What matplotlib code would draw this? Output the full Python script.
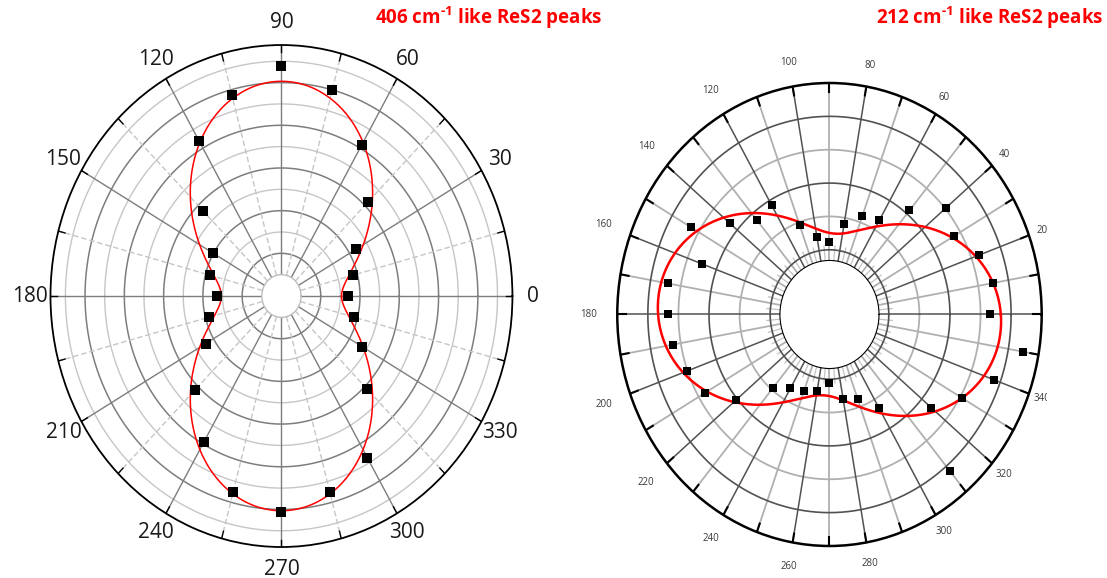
import numpy as np
import matplotlib.pyplot as plt
from matplotlib.patches import Rectangle

plt.rcParams['font.family'] = ['Open Sans', 'DejaVu Sans']
plt.rcParams['mathtext.fontset'] = 'custom'
plt.rcParams['mathtext.rm'] = 'Open Sans:bold'
plt.rcParams['mathtext.default'] = 'rm'

# --- 406 cm-1 mode: polarised intensity every 15 deg ---
ang_406 = np.arange(0, 360, 15)
int_406 = [2.41, 2.76, 3.40, 5.20, 7.16, 8.98, 9.76, 8.77, 7.41, 4.62, 3.03, 2.76,
           2.27, 2.82, 3.46, 5.20, 6.89, 8.50, 9.11, 8.49, 7.76, 5.17, 3.76, 2.81]
# cos^2 fit: base + amp * cos^2(theta - phase)
base_406, amp_406, phase_406 = 2.06, 7.0, 90.0
labels_406 = list(range(0, 360, 30))

# --- 212 cm-1 mode: polarised intensity every 10 deg ---
ang_212 = np.arange(0, 360, 10)
int_212 = [4.31, 4.50, 4.27, 3.75, 4.04, 3.13, 2.33, 2.20, 1.82, 1.24,
           1.43, 1.90, 2.84, 2.75, 3.31, 4.28, 3.51, 4.43, 4.35, 4.27,
           4.03, 3.75, 3.06, 1.95, 1.62, 1.50, 1.38, 1.12, 1.63, 1.77,
           2.28, 5.20, 3.40, 4.08, 4.78, 5.47]
base_212, amp_212, phase_212 = 1.49, 3.19, -4.0
labels_212 = list(range(0, 360, 20))

TH = np.linspace(0, 2 * np.pi, 721)


def ring(ax, r, **kw):
    ax.plot(TH, np.full_like(TH, r), **kw)


def spoke(ax, deg, r0, r1, **kw):
    t = np.deg2rad(deg)
    ax.plot([t, t], [r0, r1], **kw)


def setup(ax, rorigin, rmin, rmax):
    ax.set_aspect('auto')
    ax.set_rorigin(rorigin)
    ax.set_ylim(rmin, rmax)
    ax.grid(False)
    ax.set_xticks([])
    ax.set_yticks([])


fig = plt.figure(figsize=(11.07, 5.78), dpi=100)

# ---------------- left panel ----------------
ax1 = fig.add_axes([0.0456, 0.0536, 0.4173, 0.8685], projection='polar')
rmax1 = 10.76
setup(ax1, -1.0, 0.0, rmax1)
ax1.spines['polar'].set_color('black')
ax1.spines['polar'].set_linewidth(1.3)
ax1.spines['inner'].set_color('#bdbdbd')
ax1.spines['inner'].set_linewidth(1.0)

for r in [2, 4, 6, 8, 10]:
    ring(ax1, r, color='#c6c6c6', lw=1.0, zorder=1)
for r in [1, 3, 5, 7, 9]:
    ring(ax1, r, color='#7d7d7d', lw=1.1, zorder=1)
for d in range(15, 360, 30):
    spoke(ax1, d, 0, rmax1, color='#c6c6c6', lw=1.0, ls=(0, (4, 2)), zorder=1)
for d in range(0, 360, 30):
    spoke(ax1, d, 0, rmax1, color='#7d7d7d', lw=1.0, zorder=1)
for d in range(0, 360, 15):
    spoke(ax1, d, rmax1 - 0.35, rmax1, color='black', lw=1.0, zorder=2)
for d in labels_406:
    ax1.text(np.deg2rad(d), 1.09 * (rmax1 + 1) - 1, str(d), ha='center', va='center',
             fontsize=15, color='#1a1a1a')

ax1.plot(TH, base_406 + amp_406 * np.cos(TH - np.deg2rad(phase_406)) ** 2,
         color='red', lw=1.1, zorder=4)
ax1.plot(np.deg2rad(ang_406), int_406, 's', color='black', ms=7.2, mew=0, zorder=5)

# ---------------- right panel ----------------
ax2 = fig.add_axes([0.5576, 0.0554, 0.3834, 0.801], projection='polar')
rmax2, rmin2, rorig2 = 6.0, 0.68, -0.94
setup(ax2, rorig2, rmin2, rmax2)
ax2.spines['polar'].set_color('black')
ax2.spines['polar'].set_linewidth(1.8)
ax2.spines['inner'].set_visible(False)

for d in range(5, 360, 10):
    spoke(ax2, d, rmin2, 1.12, color='#c4c4c4', lw=0.9, zorder=1)
for r in [2, 4]:
    ring(ax2, r, color='#b0b0b0', lw=1.3, zorder=1)
for d in range(10, 360, 20):
    spoke(ax2, d, rmin2, rmax2, color='#b0b0b0', lw=1.3, zorder=1)
for r in [1, 3, 5]:
    ring(ax2, r, color='#525252', lw=1.2, zorder=1)
for d in range(0, 360, 20):
    spoke(ax2, d, rmin2, rmax2, color='#525252', lw=1.1, zorder=1)
for d in range(0, 360, 10):
    spoke(ax2, d, rmax2 - 0.27, rmax2, color='black', lw=1.5, zorder=2)
for d in labels_212:
    frac = 1.1 - 0.035 * np.cos(np.deg2rad(d))
    ax2.text(np.deg2rad(d), frac * (rmax2 - rorig2) + rorig2, str(d), ha='center',
             va='center', fontsize=7, color='#3a3a3a')

ax2.plot(TH, base_212 + amp_212 * np.cos(TH - np.deg2rad(phase_212)) ** 2,
         color='red', lw=1.8, zorder=4)
ax2.plot(np.deg2rad(ang_212), int_212, 's', color='black', ms=6.3, mew=0, zorder=5)

# right figure is trimmed at its right edge
fig.add_artist(Rectangle((1047 / 1107, 0), 60 / 1107, 1 - 40 / 578,
                         transform=fig.transFigure, facecolor='white',
                         edgecolor='none', zorder=10))

# titles
fig.text(375 / 1107, 1 - 18 / 578, r"406 cm$^{\text{-1}}$ like ReS2 peaks", color='red',
         fontweight='bold', fontsize=13.5, ha='left', va='center')
fig.text(876 / 1107, 1 - 18 / 578, r"212 cm$^{\text{-1}}$ like ReS2 peaks", color='red',
         fontweight='bold', fontsize=13.5, ha='left', va='center')

fig.savefig('out.png', dpi=100)
